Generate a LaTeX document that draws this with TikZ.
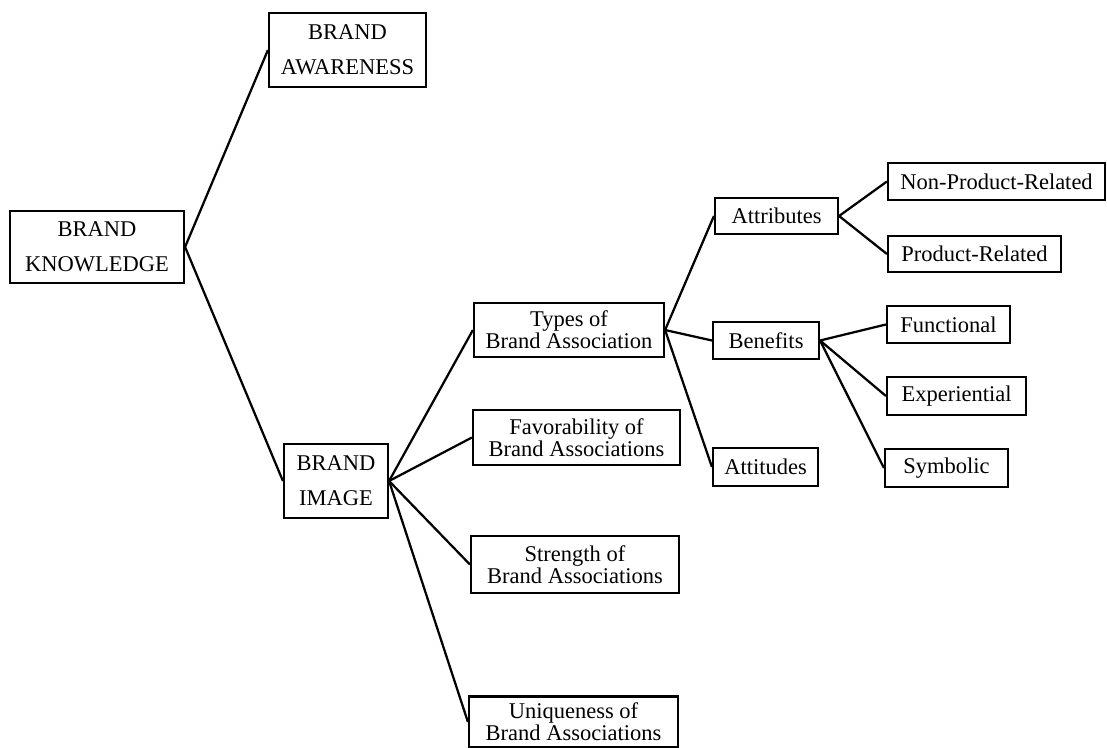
\documentclass[tikz,border=0pt]{standalone}
\usepackage{fontspec}
\setmainfont{Liberation Serif}
\begin{document}
\begin{tikzpicture}[x=0.025cm, y=-0.025cm, boxStyle/.style={rectangle, draw, line width=1.5pt, inner sep=0pt, align=center, font=\fontsize{16}{25}\selectfont}, pairStyle/.style={boxStyle, font=\fontsize{16}{13}\selectfont}, linkStyle/.style={line width=1.6pt}]
                    \useasboundingbox (0, 0) rectangle (1107, 748);

                    \node[boxStyle, minimum width=4.35cm, minimum height=1.8cm]  (root) at (97, 247) {BRAND\\KNOWLEDGE};
                    \node[boxStyle, minimum width=3.925cm, minimum height=1.85cm] (aw)   at (347.5, 50) {BRAND\\AWARENESS};
                    \node[boxStyle, minimum width=2.6cm, minimum height=1.85cm]   (img)  at (336, 481) {BRAND\\IMAGE};

                    \node[pairStyle, minimum width=4.75cm, minimum height=1.35cm]   (img_1) at (569, 330)   {Types of\\Brand Association};
                    \node[pairStyle, minimum width=5.175cm, minimum height=1.375cm] (img_2) at (576.5, 437.5) {Favorability of\\Brand Associations};
                    \node[pairStyle, minimum width=5.2cm, minimum height=1.425cm]   (img_3) at (575, 564.5) {Strength of\\Brand Associations};
                    \node[pairStyle, minimum width=5.225cm, minimum height=1.275cm] (img_4) at (573.5, 722) {Uniqueness of\\Brand Associations};

                    \node[boxStyle, minimum width=3.075cm, minimum height=0.9cm]  (typ_1) at (776.5, 216) {Attributes};
                    \node[boxStyle, minimum width=2.65cm, minimum height=0.925cm] (typ_2) at (766, 340.5)  {Benefits};
                    \node[boxStyle, minimum width=2.625cm, minimum height=0.95cm] (typ_3) at (765.5, 467)  {Attitudes};

                    \node[boxStyle, minimum width=5.425cm, minimum height=0.925cm] (att_1) at (996.5, 181.5) {Non-Product-Related};
                    \node[boxStyle, minimum width=4.325cm, minimum height=0.9cm]   (att_2) at (974.5, 254)   {Product-Related};

                    \node[boxStyle, minimum width=3.075cm, minimum height=0.925cm] (ben_1) at (948.5, 324.5) {Functional};
                    \node[boxStyle, minimum width=3.475cm, minimum height=0.95cm]  (ben_2) at (956.5, 396)   {Experiential};
                    \node[boxStyle, minimum width=3.075cm, minimum height=0.95cm]  (ben_3) at (946.5, 468)   {Symbolic};

                    \draw[linkStyle] (root.east) -- (aw.west);
                    \draw[linkStyle] (root.east) -- (img.west);
                    \foreach \k in {1,...,4}
                        \draw[linkStyle] (img.east) -- (img_\k.west);
                    \foreach \k in {1,...,3}
                        \draw[linkStyle] (img_1.east) -- (typ_\k.west);
                    \foreach \k in {1,2}
                        \draw[linkStyle] (typ_1.east) -- (att_\k.west);
                    \foreach \k in {1,...,3}
                        \draw[linkStyle] (typ_2.east) -- (ben_\k.west);
                \end{tikzpicture}
\end{document}
